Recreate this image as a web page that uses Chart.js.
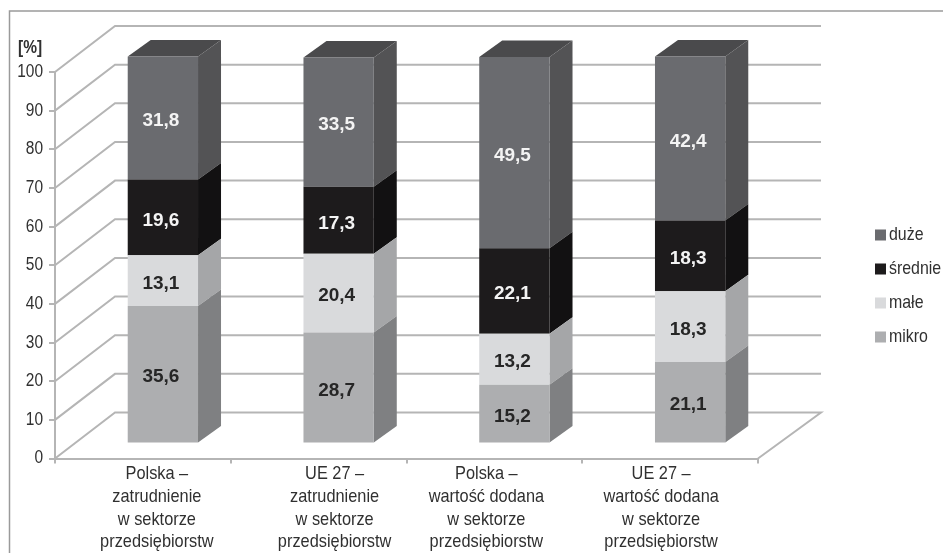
<!DOCTYPE html>
<html lang="pl">
<head>
<meta charset="utf-8">
<title>Struktura sektora przedsiębiorstw</title>
<script src="https://cdn.jsdelivr.net/npm/chart.js@4"></script>
<style>
  html, body { margin: 0; padding: 0; background: #fff; }
  canvas { display: block; }
</style>
</head>
<body>
<canvas id="myChart" width="943" height="553"></canvas>
<script>
const categories = [
  ["Polska –", "zatrudnienie", "w sektorze", "przedsiębiorstw"],
  ["UE 27 –", "zatrudnienie", "w sektorze", "przedsiębiorstw"],
  ["Polska –", "wartość dodana", "w sektorze", "przedsiębiorstw"],
  ["UE 27 –", "wartość dodana", "w sektorze", "przedsiębiorstw"],
];
const mikro = [35.6, 28.7, 15.2, 21.1];
const male = [13.1, 20.4, 13.2, 18.3];
const srednie = [19.6, 17.3, 22.1, 18.3];
const duze = [31.8, 33.5, 49.5, 42.4];
const legendLabels = ["duże", "średnie", "małe", "mikro"];

const FONT = '"Liberation Sans", Arial, sans-serif';
const TEXT = "#303030";
const GRID = "#b5b5b5";
const WALL_X = 60, WALL_Y = 46;     // depth of the floor and left wall
const BAR_X = 20, BAR_Y = 15;       // where the bar stands on the floor
const DEPTH_X = 23, DEPTH_Y = 16.5; // depth of a bar
const NARROW = 0.86;                // the original type is condensed
const labelShift = [14, 16, -8, -9]; // axis labels are not centred under the ticks

const faces = [
  { front: "#adaeb0", side: "#7f8082", top: "#8d8e90", text: "#262626" },
  { front: "#d9dadc", side: "#a5a6a8", top: "#b5b6b8", text: "#262626" },
  { front: "#1d1b1c", side: "#121112", top: "#121112", text: "#f4f4f4" },
  { front: "#6a6b6f", side: "#535355", top: "#4a4a4c", text: "#f4f4f4" },
];

function narrowText(ctx, text, x, y) {
  ctx.save();
  ctx.translate(x, y);
  ctx.scale(NARROW, 1);
  ctx.fillText(text, 0, 0);
  ctx.restore();
}

const depthPlugin = {
  id: "depth",
  beforeDraw(chart) {
    // frame around the picture
    const ctx = chart.ctx;
    ctx.save();
    ctx.strokeStyle = "#9a9a9a";
    ctx.lineWidth = 1.5;
    ctx.beginPath();
    ctx.moveTo(9.5, 553);
    ctx.lineTo(9.5, 11);
    ctx.lineTo(943, 11);
    ctx.stroke();
    ctx.restore();
  },
  beforeDatasetsDraw(chart) {
    const ctx = chart.ctx;
    const { left, right } = chart.chartArea;
    const y = chart.scales.y;
    ctx.save();
    ctx.strokeStyle = GRID;
    ctx.lineWidth = 2;
    y.ticks.forEach((tick) => {
      const py = y.getPixelForValue(tick.value);
      ctx.beginPath();
      ctx.moveTo(left, py);
      ctx.lineTo(left + WALL_X, py - WALL_Y);
      ctx.lineTo(right + WALL_X + 3, py - WALL_Y);
      if (tick.value === 0) {
        ctx.lineTo(right, py);
      }
      ctx.stroke();
    });
    ctx.restore();
  },
  beforeDatasetDraw(chart, args) {
    const ctx = chart.ctx;
    const face = faces[args.index];
    const isTop = args.index === chart.data.datasets.length - 1;
    ctx.save();
    ctx.translate(BAR_X, -BAR_Y);
    args.meta.data.forEach((bar) => {
      const r = bar.x + bar.width / 2;
      const l = bar.x - bar.width / 2;
      ctx.fillStyle = face.side;
      ctx.beginPath();
      ctx.moveTo(r, bar.y);
      ctx.lineTo(r + DEPTH_X, bar.y - DEPTH_Y);
      ctx.lineTo(r + DEPTH_X, bar.base - DEPTH_Y);
      ctx.lineTo(r, bar.base);
      ctx.closePath();
      ctx.fill();
      if (isTop) {
        ctx.fillStyle = face.top;
        ctx.beginPath();
        ctx.moveTo(l, bar.y);
        ctx.lineTo(l + DEPTH_X, bar.y - DEPTH_Y);
        ctx.lineTo(r + DEPTH_X, bar.y - DEPTH_Y);
        ctx.lineTo(r, bar.y);
        ctx.closePath();
        ctx.fill();
      }
    });
  },
  afterDatasetDraw(chart) {
    chart.ctx.restore();
  },
  afterDatasetsDraw(chart) {
    const ctx = chart.ctx;
    ctx.save();
    ctx.textAlign = "center";
    ctx.textBaseline = "middle";
    ctx.font = "bold 19px " + FONT;
    chart.data.datasets.forEach((ds, i) => {
      chart.getDatasetMeta(i).data.forEach((bar, j) => {
        ctx.fillStyle = faces[i].text;
        ctx.fillText(ds.data[j].toFixed(1).replace(".", ","),
          bar.x + BAR_X - 2, (bar.y + bar.base) / 2 - BAR_Y + 3);
      });
    });
    ctx.restore();
  },
  afterDraw(chart) {
    const ctx = chart.ctx;
    const x = chart.scales.x;
    const y = chart.scales.y;
    ctx.save();
    ctx.fillStyle = TEXT;
    ctx.textBaseline = "middle";
    ctx.font = "bold 18px " + FONT;
    narrowText(ctx, "[%]", 18, 48);
    // value axis labels
    ctx.font = "18px " + FONT;
    ctx.textAlign = "right";
    y.ticks.forEach((tick) => {
      narrowText(ctx, tick.label, 43, y.getPixelForValue(tick.value));
    });
    // category labels
    ctx.font = "19px " + FONT;
    ctx.textAlign = "center";
    categories.forEach((lines, i) => {
      lines.forEach((line, k) => {
        narrowText(ctx, line, x.getPixelForTick(i) + labelShift[i], 474 + k * 22.7);
      });
    });
    // legend, top of the stack first
    ctx.textAlign = "left";
    ctx.font = "18.5px " + FONT;
    legendLabels.forEach((label, i) => {
      const cy = 235 + i * 34;
      ctx.fillStyle = faces[3 - i].front;
      ctx.fillRect(875, cy - 5.5, 11, 11);
      ctx.fillStyle = TEXT;
      narrowText(ctx, label, 889, cy);
    });
    ctx.restore();
  },
};

function makeDataset(label, data, index) {
  return {
    label: label,
    data: data,
    backgroundColor: faces[index].front,
    borderWidth: 0,
    clip: false,
  };
}

const ctx = document.getElementById("myChart").getContext("2d");
new Chart(ctx, {
  type: "bar",
  data: {
    labels: categories,
    datasets: [
      makeDataset("mikro", mikro, 0),
      makeDataset("małe", male, 1),
      makeDataset("średnie", srednie, 2),
      makeDataset("duże", duze, 3),
    ],
  },
  options: {
    responsive: false,
    animation: false,
    layout: { padding: { top: 72, right: 185, bottom: 0, left: 0 } },
    plugins: { legend: { display: false }, tooltip: { enabled: false } },
    datasets: { bar: { barPercentage: 1, categoryPercentage: 0.4 } },
    scales: {
      x: {
        stacked: true,
        afterFit(scale) { scale.height = 94.5; },
        border: { color: GRID, width: 2 },
        grid: { drawOnChartArea: false, color: GRID, lineWidth: 2, tickLength: 5 },
        ticks: { display: false },
      },
      y: {
        stacked: true,
        min: 0,
        max: 100,
        afterFit(scale) { scale.width = 55; },
        border: { color: GRID, width: 2 },
        grid: { drawOnChartArea: false, color: GRID, lineWidth: 2, tickLength: 6 },
        ticks: { stepSize: 10, color: "rgba(0,0,0,0)", padding: 5 },
      },
    },
  },
  plugins: [depthPlugin],
});
</script>
</body>
</html>
